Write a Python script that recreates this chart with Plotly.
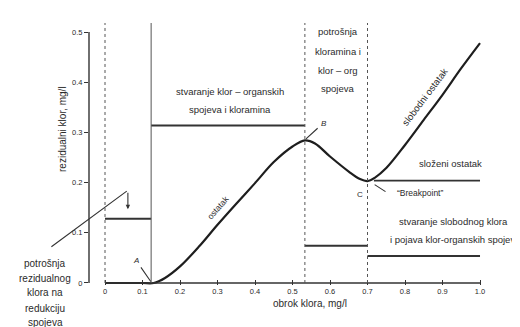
import plotly.graph_objects as go

# ---- data ----
dose = [0, 0.05, 0.10, 0.13, 0.16, 0.20, 0.25, 0.30, 0.35, 0.40, 0.45, 0.50,
        0.533, 0.56, 0.60, 0.65, 0.68, 0.70, 0.72, 0.75, 0.80, 0.85, 0.90, 0.95, 1.00]
residual = [0, 0, 0, 0, 0.010, 0.033, 0.072, 0.116, 0.158, 0.199, 0.241, 0.272,
            0.284, 0.278, 0.252, 0.222, 0.207, 0.203, 0.21, 0.229, 0.275, 0.325, 0.375, 0.428, 0.478]

zone_starts = [0, 0.123, 0.533, 0.70]
zone_ends = [0.123, 0.533, 0.70, 1.0]
zone_levels = [0.128, 0.314, 0.074, 0.054]

combined_x = [0.717, 1.0]
combined_y = [0.204, 0.204]

dividers = [0, 0.123, 0.533, 0.70]
divider_dash = ["dot", "solid", "dot", "dot"]

x_ticks = [0, 0.1, 0.2, 0.3, 0.4, 0.5, 0.6, 0.7, 0.8, 0.9, 1.0]
x_labels = ["0", "0.1", "0.2", "0.3", "0.4", "0.5", "0.6", "0.7", "0.8", "0.9", "1.0"]
y_ticks = [0, 0.1, 0.2, 0.3, 0.4, 0.5]
y_labels = ["0", "0.1", "0.2", "0.3", "0.4", "0.5"]

INK = "#2b2b2b"
LINE = "#333333"
FONT = "Liberation Sans, Arial, sans-serif"

fig = go.Figure()

# main curve
fig.add_trace(go.Scatter(x=dose, y=residual, mode="lines",
                         line=dict(color="#1e1e1e", width=2.2, shape="spline", smoothing=1.0),
                         hoverinfo="skip", showlegend=False))

# zone level bars
for x0, x1, lv in zip(zone_starts, zone_ends, zone_levels):
    fig.add_trace(go.Scatter(x=[x0, x1], y=[lv, lv], mode="lines",
                             line=dict(color=LINE, width=2), hoverinfo="skip", showlegend=False))
fig.add_trace(go.Scatter(x=combined_x, y=combined_y, mode="lines",
                         line=dict(color=LINE, width=1.6), hoverinfo="skip", showlegend=False))

# x axis baseline
fig.add_trace(go.Scatter(x=[x_ticks[0], x_ticks[-1]], y=[0, 0], mode="lines",
                         line=dict(color=LINE, width=1.6), hoverinfo="skip", showlegend=False))

shapes = []
for xv, d in zip(dividers, divider_dash):
    shapes.append(dict(type="line", xref="x", yref="y", x0=xv, x1=xv, y0=0, y1=0.518,
                       line=dict(color="#555555", width=1, dash=d)))
# y axis line
shapes.append(dict(type="line", xref="paper", yref="y", x0=0, x1=0, y0=0, y1=0.5,
                   line=dict(color=LINE, width=1.4)))

ann = []


def txt(x, y, s, size=9.5, angle=0, xanchor="center", italic=False, ref="data"):
    if italic:
        s = "<i>" + s + "</i>"
    xr, yr = ("x", "y") if ref == "data" else ("paper", "paper")
    ann.append(dict(x=x, y=y, xref=xr, yref=yr, text=s, showarrow=False,
                    textangle=angle, xanchor=xanchor, yanchor="middle",
                    font=dict(family=FONT, size=size, color=INK)))


def leader(x0, y0, x1, y1, head=0):
    ann.append(dict(x=x1, y=y1, ax=x0, ay=y0, xref="x", yref="y", axref="x", ayref="y",
                    text="", showarrow=True, arrowhead=head, arrowsize=0.8,
                    arrowwidth=1.1, arrowcolor=LINE))


# region labels
txt(0.333, 0.382, "stvaranje klor – organskih")
txt(0.333, 0.345, "spojeva i kloramina")
for yy, s in zip([0.502, 0.462, 0.424, 0.388], ["potrošnja", "kloramina i", "klor – org", "spojeva"]):
    txt(0.621, yy, s)
for yy, s in zip([0.083, 0.026, -0.030, -0.087, -0.143],
                 ["potrošnja", "rezidualnog", "klora na", "redukciju", "spojeva"]):
    txt(-0.110, yy, s, size=10, ref="paper")
txt(0.928, 0.1235, "stvaranje slobodnog klora")
txt(0.935, 0.0857, "i pojava klor-organskih spojeva")
txt(0.92, 0.239, "složeni ostatak")
txt(0.853, 0.372, "slobodni ostatak", angle=-53)
txt(0.300, 0.150, "ostatak", size=8.5, angle=-49)

# points
txt(0.083, 0.045, "A", size=8, italic=True)
leader(0.093, 0.034, 0.122, 0.003)
txt(0.583, 0.318, "B", size=8, italic=True)
leader(0.571, 0.311, 0.536, 0.287)
txt(0.68, 0.177, "C", size=8)
txt(0.84, 0.179, "\u201cBreakpoint\u201d", size=8.5)
leader(0.715, 0.198, 0.748, 0.182)

# left pointer
leader(0.061, 0.183, 0.061, 0.147, head=2)
leader(-0.147, 0.07, 0.058, 0.183)

# axis titles
txt(0.554, -0.068, "obrok klora, mg/l", size=10, ref="paper")
txt(-0.065, 0.589, "rezidualni klor, mg/l", size=10, angle=-90, ref="paper")

fig.update_layout(
    width=520, height=327,
    margin=dict(l=81, r=40, t=12, b=50),
    paper_bgcolor="white", plot_bgcolor="white",
    shapes=shapes, annotations=ann,
    showlegend=False,
    xaxis=dict(range=[-0.0427, 1.0213], tickvals=x_ticks, ticktext=x_labels,
               ticks="inside", ticklen=5, tickcolor=LINE, showline=False,
               showgrid=False, zeroline=False,
               tickfont=dict(family=FONT, size=7.5, color=INK)),
    yaxis=dict(range=[-0.004, 0.524], tickvals=y_ticks, ticktext=y_labels,
               ticks="outside", ticklen=4, tickcolor=LINE, showline=False,
               showgrid=False, zeroline=False,
               tickfont=dict(family=FONT, size=7.5, color=INK)),
)

fig.write_html("out.html")
